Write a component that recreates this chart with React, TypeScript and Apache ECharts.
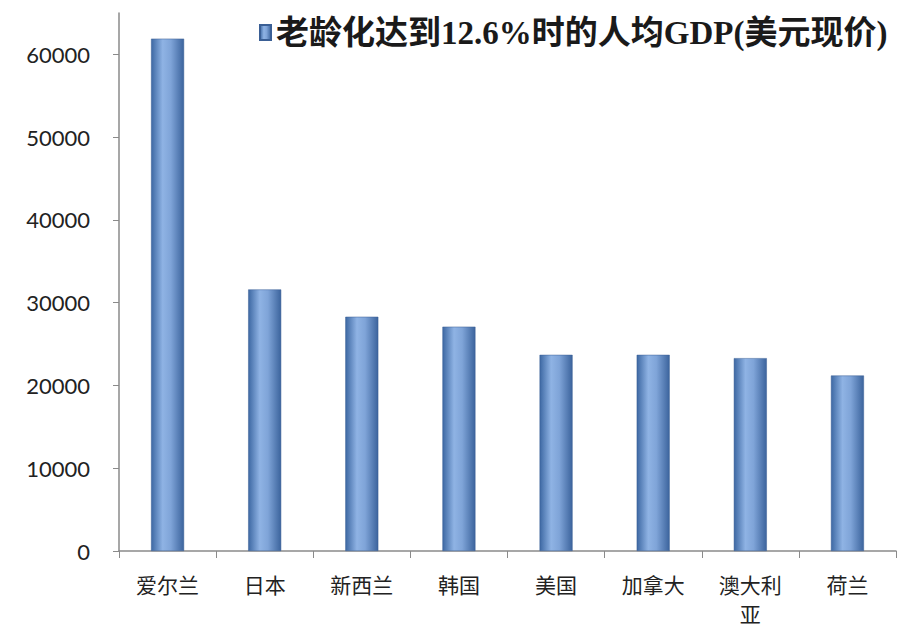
import React, { useEffect, useRef } from "react";
import * as echarts from "echarts";

const categories = ["爱尔兰", "日本", "新西兰", "韩国", "美国", "加拿大", "澳大利\n亚", "荷兰"];
const gdpValues = [61900, 31600, 28300, 27100, 23700, 23700, 23300, 21200];
const yTicks = [0, 10000, 20000, 30000, 40000, 50000, 60000];
const seriesName = "老龄化达到12.6%时的人均GDP(美元现价)";

export default function App() {
  const ref = useRef<HTMLDivElement>(null);
  useEffect(() => {
    if (!ref.current) return;
    const chart = echarts.init(ref.current, undefined, { renderer: "svg" });
    const barColor = new echarts.graphic.LinearGradient(0, 0, 1, 0, [
      { offset: 0, color: "#3d68a3" },
      { offset: 0.35, color: "#8fb3e4" },
      { offset: 0.6, color: "#7fa4d8" },
      { offset: 1, color: "#3c649d" },
    ]);
    chart.setOption({
      animation: false,
      backgroundColor: "#ffffff",
      legend: {
        left: 254,
        top: 11,
        itemWidth: 11,
        itemHeight: 15,
        itemGap: 6,
        icon: "rect",
        textStyle: {
          fontFamily: "'Liberation Serif', 'Noto Sans CJK SC', serif",
          fontWeight: "bold",
          fontSize: 33,
          color: "#1a1a1a",
        },
        data: [seriesName],
      },
      grid: { left: 119, right: 7, top: 13, bottom: 78, containLabel: false, outerBoundsMode: "none" },
      xAxis: {
        type: "category",
        data: categories,
        axisLine: { lineStyle: { color: "#8a8a8a", width: 1.5 } },
        axisTick: { show: true, alignWithLabel: false, length: 7, lineStyle: { color: "#8a8a8a" } },
        axisLabel: {
          margin: 18,
          fontSize: 21,
          lineHeight: 29,
          color: "#222",
          fontFamily: "'Noto Sans CJK SC', serif",
          interval: 0,
        },
      },
      yAxis: {
        type: "value",
        min: 0,
        max: 65000,
        interval: 10000,
        splitLine: { show: false },
        axisLine: { show: true, lineStyle: { color: "#8a8a8a", width: 1.5 } },
        axisTick: { show: true, length: 6, inside: false, customValues: yTicks, lineStyle: { color: "#8a8a8a" } },
        axisLabel: {
          margin: 29,
          fontSize: 22,
          color: "#222",
          fontFamily: "Lato, 'Liberation Sans', sans-serif",
          customValues: yTicks,
          formatter: (v: number) => String(v),
        },
      },
      series: [
        {
          name: seriesName,
          type: "bar",
          data: gdpValues,
          barWidth: 33,
          itemStyle: { color: barColor, borderColor: "#3a5f95", borderWidth: 0.5 },
        },
      ],
    });
    return () => chart.dispose();
  }, []);
  return <div ref={ref} style={{ width: 903, height: 629, position: "absolute", left: 0, top: 0 }} />;
}
